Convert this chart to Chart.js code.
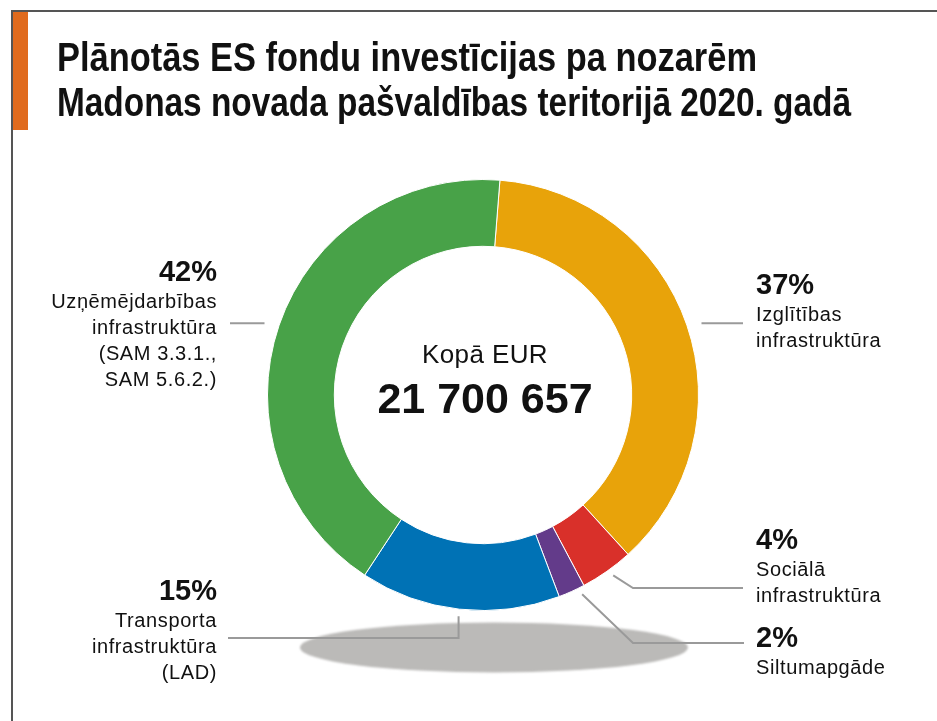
<!DOCTYPE html>
<html lang="lv">
<head>
<meta charset="utf-8">
<script src="https://cdn.jsdelivr.net/npm/chart.js@4"></script>
<style>
    html, body { margin: 0; padding: 0; background: #fff; }
    #wrap { position: relative; width: 937px; height: 721px; overflow: hidden; font-family: "Liberation Sans", Arial, sans-serif; color: #111; }
    #wrap canvas { position: absolute; left: 0; top: 0; }
    .frameTop { position: absolute; left: 12px; top: 10px; width: 925px; height: 2px; background: #555; }
    .frameLeft { position: absolute; left: 11px; top: 10px; width: 2px; height: 711px; background: #555; }
    .bar { position: absolute; left: 13px; top: 12px; width: 15px; height: 118px; background: #e06b1e; }
    .t { position: absolute; white-space: nowrap; }
    .title { font-weight: bold; font-size: 40px; line-height: 40px; transform-origin: 0 0; }
    .pct { font-weight: bold; font-size: 29px; line-height: 29px; }
    .lbl { font-size: 20px; line-height: 20px; letter-spacing: 0.6px; }
</style>
</head>
<body>
<div id="wrap">
    <div class="frameTop"></div>
    <div class="frameLeft"></div>
    <div class="bar"></div>
    <canvas id="donut" width="937" height="721"></canvas>
    <div id="texts"></div>
</div>
<script>
// data
const categories = ['Izglītības infrastruktūra', 'Sociālā infrastruktūra', 'Siltumapgāde',
    'Transporta infrastruktūra (LAD)', 'Uzņēmējdarbības infrastruktūra (SAM 3.3.1., SAM 5.6.2.)'];
const shares = [37, 4, 2, 15, 42];
const labelLines = [
    ['Izglītības', 'infrastruktūra'],
    ['Sociālā', 'infrastruktūra'],
    ['Siltumapgāde'],
    ['Transporta', 'infrastruktūra', '(LAD)'],
    ['Uzņēmējdarbības', 'infrastruktūra', '(SAM 3.3.1.,', 'SAM 5.6.2.)']
];
const colors = ['#e8a30a', '#d9302a', '#633b8a', '#0072b5', '#48a248'];
const titleLines = ['Plānotās ES fondu investīcijas pa nozarēm', 'Madonas novada pašvaldības teritorijā 2020. gadā'];
const totalLabel = 'Kopā EUR';
const totalValue = '21 700 657';

// layout of labels: x anchor, align, baseline of the % line
const labelPos = [
    { x: 756, align: 'left', base: 295 },
    { x: 756, align: 'left', base: 550 },
    { x: 756, align: 'left', base: 648 },
    { x: 217, align: 'right', base: 601 },
    { x: 217, align: 'right', base: 282 }
];
// leader lines from each slice (at = where along the slice the line starts, 0..1)
const leaders = [
    { mode: 'h', toX: 743, at: 0.5 },
    { mode: 'diag', elbow: [633, 588], toX: 743, at: 0.45 },
    { mode: 'diag', elbow: [633, 643], toX: 744, at: 0.2 },
    { mode: 'v', viaY: 638, toX: 228, at: 0.5 },
    { mode: 'h', toX: 230, at: 0.5 }
];

const texts = document.getElementById('texts');
function addText(str, cls, x, baseline, size, align) {
    const el = document.createElement('div');
    el.className = 't ' + cls;
    el.textContent = str;
    el.style.fontSize = size + 'px';
    el.style.lineHeight = size + 'px';
    el.style.top = (baseline - 0.8465 * size) + 'px';
    if (align === 'right') el.style.right = (937 - x) + 'px';
    else if (align === 'center') { el.style.left = (x - 300) + 'px'; el.style.width = '600px'; el.style.textAlign = 'center'; }
    else el.style.left = x + 'px';
    texts.appendChild(el);
    return el;
}

// title is a condensed face in the original: squeeze Liberation Sans Bold to the same widths
function squeezeTo(el, w) {
    el.style.transform = 'scaleX(' + (w / el.getBoundingClientRect().width) + ')';
}
squeezeTo(addText(titleLines[0], 'title', 57, 71, 40, 'left'), 700);
squeezeTo(addText(titleLines[1], 'title', 57, 116, 40, 'left'), 794);

labelPos.forEach((p, i) => {
    addText(shares[i] + '%', 'pct', p.x, p.base, 29, p.align);
    labelLines[i].forEach((line, j) => addText(line, 'lbl', p.x, p.base + 26 * (j + 1), 20, p.align));
});

const extras = {
    id: 'extras',
    beforeDatasetsDraw(chart) {
        const ctx = chart.ctx;
        const arc = chart.getDatasetMeta(0).data[0];
        const cx = arc.x, cy = arc.y, r = arc.outerRadius;
        // shadow under the ring
        ctx.save();
        ctx.filter = 'blur(1px)';
        ctx.fillStyle = '#bbbab8';
        ctx.beginPath();
        ctx.ellipse(cx + 11, cy + r + 37, r * 0.9, 25, 0, 0, Math.PI * 2);
        ctx.fill();
        ctx.restore();
    },
    afterDatasetsDraw(chart) {
        const ctx = chart.ctx;
        const arcs = chart.getDatasetMeta(0).data;
        ctx.save();
        ctx.strokeStyle = '#9a9a9a';
        ctx.lineWidth = 2;
        arcs.forEach((a, i) => {
            const L = leaders[i];
            const ang = a.startAngle + (a.endAngle - a.startAngle) * L.at;
            const pts = [];
            if (L.mode === 'h') {
                const y = a.y + Math.sin(ang) * (a.outerRadius + 6);
                const x = a.x + Math.sign(Math.cos(ang)) * (a.outerRadius + 3);
                pts.push([x, y], [L.toX, y]);
            } else {
                const sx = a.x + Math.cos(ang) * (a.outerRadius + 7);
                const sy = a.y + Math.sin(ang) * (a.outerRadius + 7);
                pts.push([sx, sy]);
                if (L.mode === 'v') pts.push([sx, L.viaY], [L.toX, L.viaY]);
                else pts.push(L.elbow, [L.toX, L.elbow[1]]);
            }
            ctx.beginPath();
            ctx.moveTo(pts[0][0], pts[0][1]);
            pts.slice(1).forEach(p => ctx.lineTo(p[0], p[1]));
            ctx.stroke();
        });
        ctx.restore();
    }
};

new Chart(document.getElementById('donut'), {
    type: 'doughnut',
    data: {
        labels: categories,
        datasets: [{
            data: shares,
            backgroundColor: colors,
            borderColor: '#ffffff',
            borderWidth: 1,
            hoverOffset: 0
        }]
    },
    options: {
        responsive: false,
        animation: false,
        devicePixelRatio: 1,
        cutout: '69%',
        rotation: 4.5,
        layout: { padding: { left: 267, right: 238, top: 179, bottom: 110 } },
        plugins: {
            legend: { display: false },
            tooltip: { enabled: false }
        }
    },
    plugins: [extras]
});

const k = addText(totalLabel, 'lbl', 485, 363, 26, 'center');
k.style.letterSpacing = '0.4px';
addText(totalValue, 'pct', 485, 413, 43, 'center');
</script>
</body>
</html>
